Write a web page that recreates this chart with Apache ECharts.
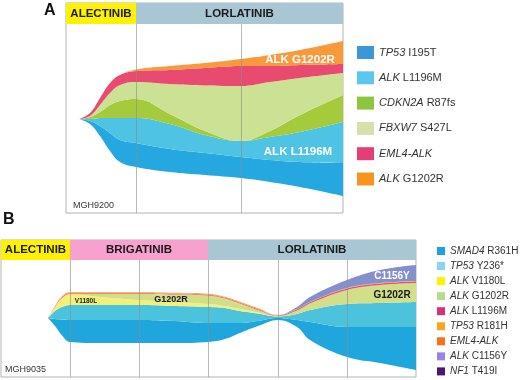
<!DOCTYPE html>
<html>
<head>
<meta charset="utf-8">
<script src="https://cdn.jsdelivr.net/npm/echarts@6/dist/echarts.min.js"></script>
<style>
    html, body { margin: 0; padding: 0; background: #fff; }
    #chart { width: 520px; height: 380px; }
</style>
</head>
<body>
<div id="chart"></div>
<script>
/* ================================================================
   Fish plots — clonal evolution under ALK inhibitors (A: MGH9200, B: MGH9035)
   each clone = stacked band thickness; base = invisible offset below the fish
   ================================================================ */

/* ===== Panel A data ===== */
const timeA = [13, 24, 34, 44, 54, 70, 104, 139, 175, 204, 234, 277];
const baseA = [94, 89, 77, 62, 51, 46, 41, 38, 35, 31, 26, 17];
const tp53I195T = [0, 3, 10, 18, 22, 24, 23, 22, 21, 22, 25, 33];
const alkL1196M_A = [0, 2, 8, 15, 22, 25, 25, 18, 16, 23, 30, 41];
const cdkn2aR87fs = [0, 2, 6, 13, 17, 19, 10, 4, 0, 6, 17, 27];
const fbxw7S427L = [0, 1, 7, 12, 16, 17, 30, 45.5, 55, 49, 37, 22];
const eml4Alk_A = [0, 3, 7, 10, 10, 11, 14, 17.5, 20, 16, 13, 9];
const alkG1202R_A = [0, 0, 0, 0, 0, 1.5, 4, 5, 7, 11, 15, 23];
const phasesA = ["ALECTINIB", "LORLATINIB"];
const phaseEdgesA = [0, 70, 277];
const samplesA = [70, 175];

/* ===== Panel B data ===== */
const timeB = [47, 54, 61, 69, 99, 138, 174, 207, 224, 239, 257, 277, 296, 309, 346, 379, 415];
const baseB = [59, 51, 41.5, 35, 34, 34, 34, 35, 38, 44, 51, 57, 50, 37, 20, 14, 7];
const smad4R361H = [0, 7, 16, 22, 23, 23, 22, 19, 16, 10, 5, 2, 7, 18, 30, 36, 43];
const tp53Y236 = [0, 8, 12.5, 15, 15, 15, 15, 16, 15, 12, 7.5, 1.5, 6, 12, 23, 24, 25];
const alkV1180L = [0, 4, 9, 11, 8, 5, 4, 3, 2, 2, 1, 0.2, 0, 0, 0, 0, 0];
const alkG1202R_B = [0, 0, 0, 0, 3, 6, 7.5, 8.5, 7.5, 5.5, 2.5, 0.3, 3.5, 6.5, 14, 18, 19];
const alkL1196M_B = [0, 0.5, 0.8, 0.8, 0.8, 0.8, 0.8, 0.8, 0.8, 0.8, 0.8, 0.5, 1.2, 1.3, 1.5, 1.5, 1.5];
const tp53R181H = [0, 0.6, 1, 1, 1, 1, 1, 1, 1, 1, 1, 0.5, 0.3, 0.3, 0.5, 0.5, 0.5];
const alkC1156Y = [0, 0, 0, 0, 0, 0, 0, 0, 0, 0, 0, 0, 2, 5, 8, 13, 16];
const phasesB = ["ALECTINIB", "BRIGATINIB", "LORLATINIB"];
const phaseEdgesB = [0, 69, 207, 415];
const samplesB = [69, 138, 207, 277, 346];

/* ===== Legends ===== */
const legendA = ["TP53 I195T", "ALK L1196M", "CDKN2A R87fs", "FBXW7 S427L", "EML4-ALK", "ALK G1202R"];
const legendColorsA = ["#3a98d9", "#5cc7ee", "#8cc63f", "#d5e0ae", "#e33e76", "#f7941e"];
const legendB = ["SMAD4 R361H", "TP53 Y236*", "ALK V1180L", "ALK G1202R", "ALK L1196M", "TP53 R181H", "EML4-ALK", "ALK C1156Y", "NF1 T419I"];
const legendColorsB = ["#1aa3e0", "#87d5f3", "#fff200", "#b5dc8c", "#d9307a", "#ffa31a", "#ff6c1a", "#9a82e6", "#4a1670"];

const FONT = "'Liberation Sans', Arial, sans-serif";
const PHASE_COLORS = { ALECTINIB: "#fff200", BRIGATINIB: "#f7a1cf", LORLATINIB: "#a9c6d4" };

/* ===== helpers ===== */
// value first so the stack runs on y (x is a value axis too)
const pairs = (t, v) => t.map((x, i) => [v[i], x]);
const ENC = { x: 1, y: 0 };

function band(name, t, vals, color, stack, gi, labels) {
    const s = {
        name, type: "line", stack, xAxisIndex: gi, yAxisIndex: gi, encode: ENC,
        data: pairs(t, vals), smooth: 0.4, symbol: "none", silent: true,
        lineStyle: { width: 0 }, itemStyle: { color }, areaStyle: { color, opacity: 1 },
    };
    if (labels) s.markPoint = {
        symbol: "circle", symbolSize: 0, silent: true,
        data: labels.map(l => ({ name: l.text, coord: l.at, label: {
            show: true, position: "inside", formatter: "{b}", color: l.color,
            fontWeight: "bold", fontSize: l.size, fontFamily: FONT } })),
    };
    return s;
}

function baseSeries(stack, gi, t, vals, phases, edges, samples, hTop, hMax) {
    return {
        name: "base" + stack, type: "line", stack, xAxisIndex: gi, yAxisIndex: gi, encode: ENC,
        data: pairs(t, vals), smooth: 0.4, symbol: "none", silent: true,
        lineStyle: { opacity: 0 },
        markArea: {
            silent: true,
            label: { show: true, position: "inside", color: "#1a1a1a", fontWeight: "bold", fontSize: 11.5, fontFamily: FONT },
            data: phases.map((p, i) => [
                { name: p, xAxis: edges[i], yAxis: hTop, itemStyle: { color: PHASE_COLORS[p], opacity: 1 } },
                { xAxis: edges[i + 1], yAxis: hMax },
            ]),
        },
        markLine: {
            silent: true, symbol: ["none", "none"], label: { show: false },
            lineStyle: { color: "#8c8c8c", width: 1, type: "solid", opacity: 0.6 },
            data: samples.map(x => [{ coord: [x, 0] }, { coord: [x, hTop] }]),
        },
    };
}

function geneLabel(name) {
    const i = name.indexOf(" ");
    return i < 0 ? "{g|" + name + "}" : "{g|" + name.slice(0, i) + "} " + name.slice(i + 1);
}

function legendBox(names, colors, left, top, w, h, gap, size, lh) {
    const ts = { fontSize: size, color: "#333", fontFamily: FONT, lineHeight: lh };
    return {
        orient: "vertical", left, top, padding: 0, icon: "rect", selectedMode: false,
        itemWidth: w, itemHeight: h, itemGap: gap,
        data: names.map((n, i) => ({ name: n, itemStyle: { color: colors[i], borderWidth: 0 } })),
        formatter: geneLabel,
        textStyle: Object.assign({}, ts, { rich: { g: Object.assign({ fontStyle: "italic" }, ts) } }),
    };
}

/* ===== chart ===== */
const chart = echarts.init(document.getElementById("chart"));
const gridStyle = { show: true, borderColor: "#b3b3b3", borderWidth: 1, backgroundColor: "transparent" };

chart.setOption({
    animation: false,
    textStyle: { fontFamily: FONT },
    title: [
        { text: "A", left: 44, top: 3, padding: 0, textStyle: { fontSize: 16, fontWeight: "bold", color: "#111" } },
        { text: "B", left: 3, top: 212, padding: 0, textStyle: { fontSize: 16, fontWeight: "bold", color: "#111" } },
        { text: "MGH9200", left: 73, top: 201, padding: 0, textStyle: { fontSize: 9, fontWeight: "normal", color: "#333" } },
        { text: "MGH9035", left: 5, top: 365, padding: 0, textStyle: { fontSize: 9, fontWeight: "normal", color: "#333" } },
    ],
    legend: [
        legendBox(legendA, legendColorsA, 357, 46, 17, 13, 12.3, 11, 13),
        legendBox(legendB, legendColorsB, 437, 245, 8, 8, 3.05, 10, 12),
    ],
    grid: [
        Object.assign({ left: 66, top: 3, right: 177, bottom: 167 }, gridStyle),
        Object.assign({ left: 1, top: 240, right: 104, bottom: 3 }, gridStyle),
    ],
    xAxis: [
        { type: "value", gridIndex: 0, min: 0, max: 277, show: false },
        { type: "value", gridIndex: 1, min: 0, max: 415, show: false },
    ],
    yAxis: [
        { type: "value", gridIndex: 0, min: 0, max: 210, show: false },
        { type: "value", gridIndex: 1, min: 0, max: 137, show: false },
    ],
    series: [
        baseSeries("A", 0, timeA, baseA, phasesA, phaseEdgesA, samplesA, 189, 210),
        band("TP53 I195T", timeA, tp53I195T, "#25a8df", "A", 0),
        band("ALK L1196M", timeA, alkL1196M_A, "#4ec3e3", "A", 0,
            [{ text: "ALK L1196M", at: [232, 61], color: "#fff", size: 11.5 }]),
        band("CDKN2A R87fs", timeA, cdkn2aR87fs, "#a5cb3c", "A", 0),
        band("FBXW7 S427L", timeA, fbxw7S427L, "#cbe194", "A", 0),
        band("EML4-ALK", timeA, eml4Alk_A, "#e94a6f", "A", 0),
        band("ALK G1202R", timeA, alkG1202R_A, "#f89a3c", "A", 0,
            [{ text: "ALK G1202R", at: [234, 153], color: "#fff", size: 11.5 }]),

        baseSeries("B", 1, timeB, baseB, phasesB, phaseEdgesB, samplesB, 117, 137),
        band("SMAD4 R361H", timeB, smad4R361H, "#1fa6dc", "B", 1),
        band("TP53 Y236*", timeB, tp53Y236, "#4cc3dc", "B", 1),
        band("ALK V1180L", timeB, alkV1180L, "#f3f07a", "B", 1,
            [{ text: "V1180L", at: [85, 76], color: "#1a1a1a", size: 6.5 }]),
        band("ALK G1202R", timeB, alkG1202R_B, "#d3de88", "B", 1,
            [{ text: "G1202R", at: [170, 77.5], color: "#1a1a1a", size: 9 },
             { text: "G1202R", at: [391, 81.5], color: "#1a1a1a", size: 10 }]),
        band("ALK L1196M", timeB, alkL1196M_B, "#e9506e", "B", 1),
        band("TP53 R181H", timeB, tp53R181H, "#f7a04a", "B", 1),
        band("ALK C1156Y", timeB, alkC1156Y, "#8490cd", "B", 1,
            [{ text: "C1156Y", at: [391, 100.5], color: "#fff", size: 10 }]),
        { name: "NF1 T419I", type: "line", xAxisIndex: 1, yAxisIndex: 1, data: [], itemStyle: { color: "#4a1670" } },
    ],
});
</script>
</body>
</html>
